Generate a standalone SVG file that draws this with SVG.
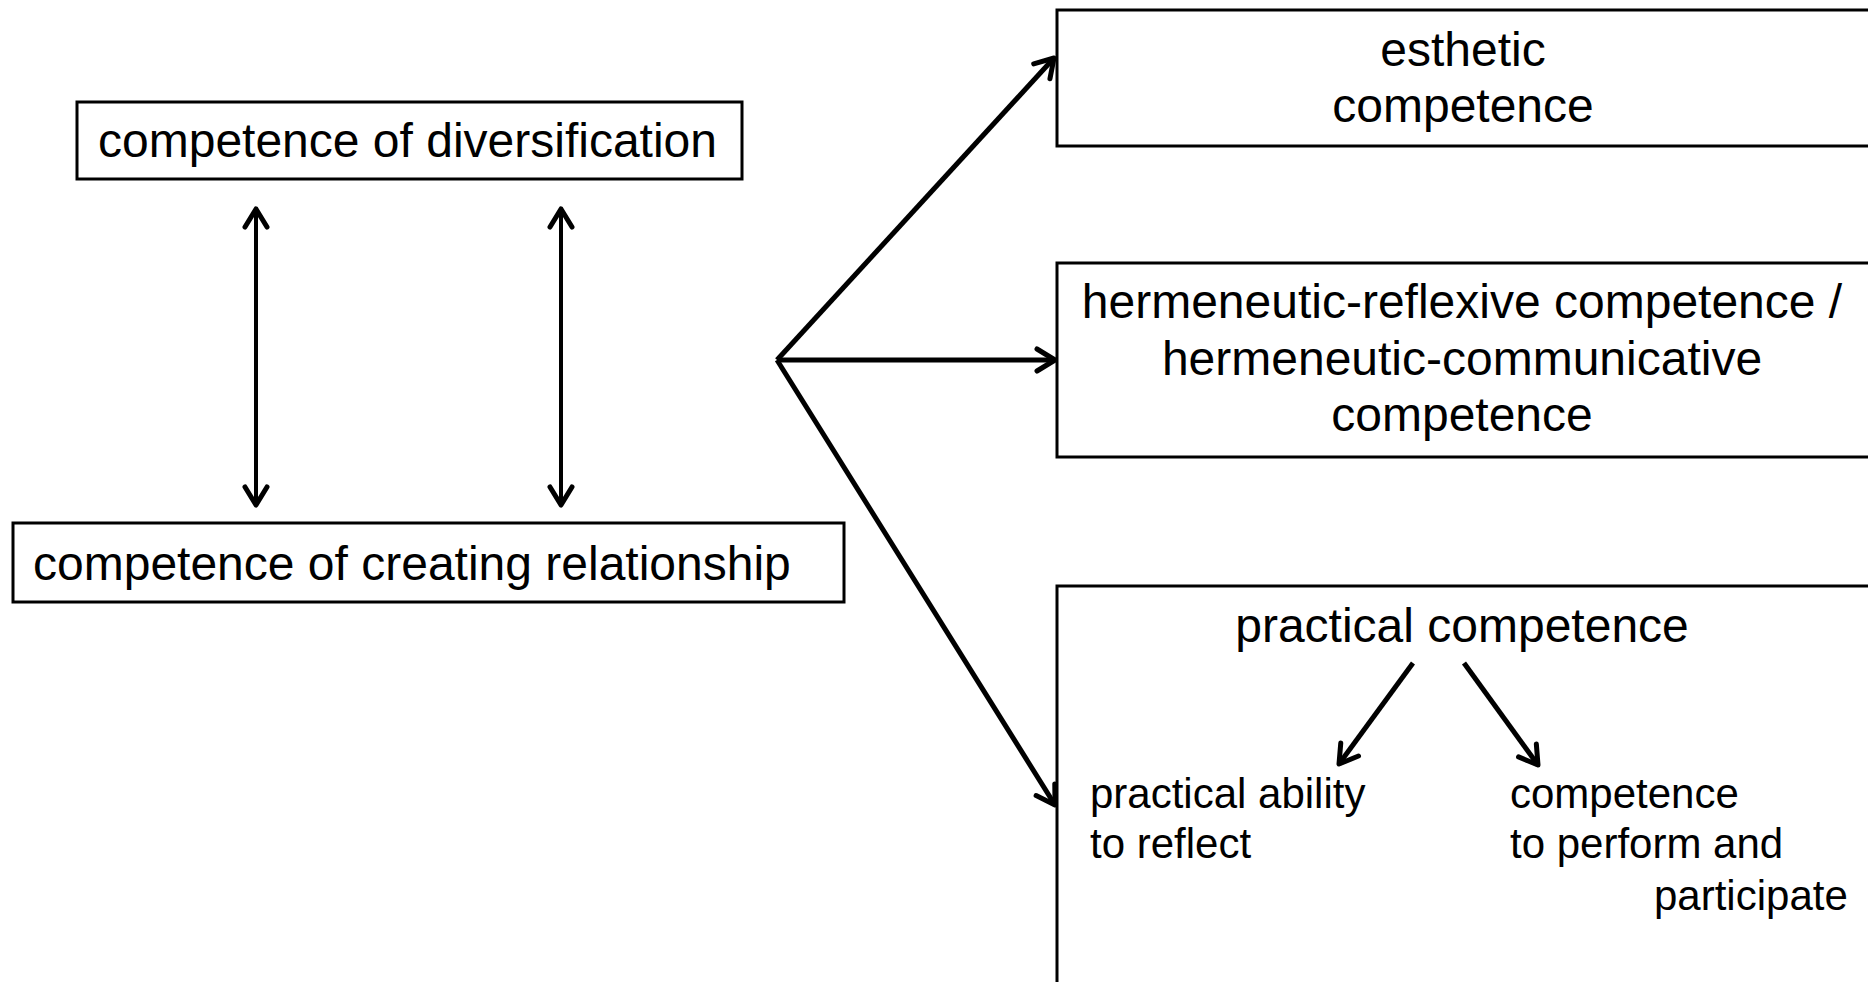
<svg xmlns="http://www.w3.org/2000/svg" width="1868" height="982" viewBox="0 0 1868 982">
<defs>
<style>
.box{fill:#fff;stroke:#000;stroke-width:3}
.t{font-family:"Liberation Sans",Arial,sans-serif;font-size:48px;fill:#000}
.s{font-family:"Liberation Sans",Arial,sans-serif;font-size:42px;fill:#000}
.c{text-anchor:middle}
.ln{stroke:#000;stroke-width:5;fill:none}
.ln4{stroke:#000;stroke-width:4;fill:none}
</style>
<marker id="ah" viewBox="-24 -14 28 28" refX="0" refY="0" markerWidth="28" markerHeight="28" markerUnits="userSpaceOnUse" orient="auto-start-reverse">
<path d="M-18,-11 L0,0 L-18,11" fill="none" stroke="#000" stroke-width="5" stroke-linecap="round" stroke-linejoin="round"/>
</marker>
</defs>
<rect width="1868" height="982" fill="#fff"/>
<g id="connectors">
<line class="ln4" x1="256" y1="209" x2="256" y2="505" marker-start="url(#ah)" marker-end="url(#ah)"/>
<line class="ln4" x1="561" y1="209" x2="561" y2="505" marker-start="url(#ah)" marker-end="url(#ah)"/>
<line class="ln" x1="777" y1="360" x2="1054" y2="58" marker-end="url(#ah)"/>
<line class="ln" x1="777" y1="360" x2="1055" y2="360" marker-end="url(#ah)"/>
<line class="ln" x1="777" y1="360" x2="1055" y2="805" marker-end="url(#ah)"/>
</g>
<g id="diversification">
<rect class="box" x="77" y="102" width="665" height="77"/>
<text class="t" x="98" y="157">competence of diversification</text>
</g>
<g id="relationship">
<rect class="box" x="13" y="523" width="831" height="79"/>
<text class="t" x="33" y="580">competence of creating relationship</text>
</g>
<g id="esthetic">
<rect class="box" x="1057" y="10" width="830" height="136"/>
<text class="t c" x="1463" y="66">esthetic</text>
<text class="t c" x="1463" y="122">competence</text>
</g>
<g id="hermeneutic">
<rect class="box" x="1057" y="263" width="830" height="194"/>
<text class="t c" x="1462" y="318">hermeneutic-reflexive competence /</text>
<text class="t c" x="1462" y="375">hermeneutic-communicative</text>
<text class="t c" x="1462" y="431">competence</text>
</g>
<g id="practical">
<rect class="box" x="1057" y="586" width="830" height="420"/>
<text class="t c" x="1462" y="642">practical competence</text>
<g id="practical-arrows">
<line class="ln" x1="1413" y1="663" x2="1339" y2="764" marker-end="url(#ah)"/>
<line class="ln" x1="1464" y1="663" x2="1538" y2="765" marker-end="url(#ah)"/>
</g>
<g id="ability">
<text class="s" x="1090" y="808">practical ability</text>
<text class="s" x="1090" y="858">to reflect</text>
</g>
<g id="perform">
<text class="s" x="1510" y="808">competence</text>
<text class="s" x="1510" y="858">to perform and</text>
<text class="s" x="1654" y="910">participate</text>
</g>
</g>
</svg>
